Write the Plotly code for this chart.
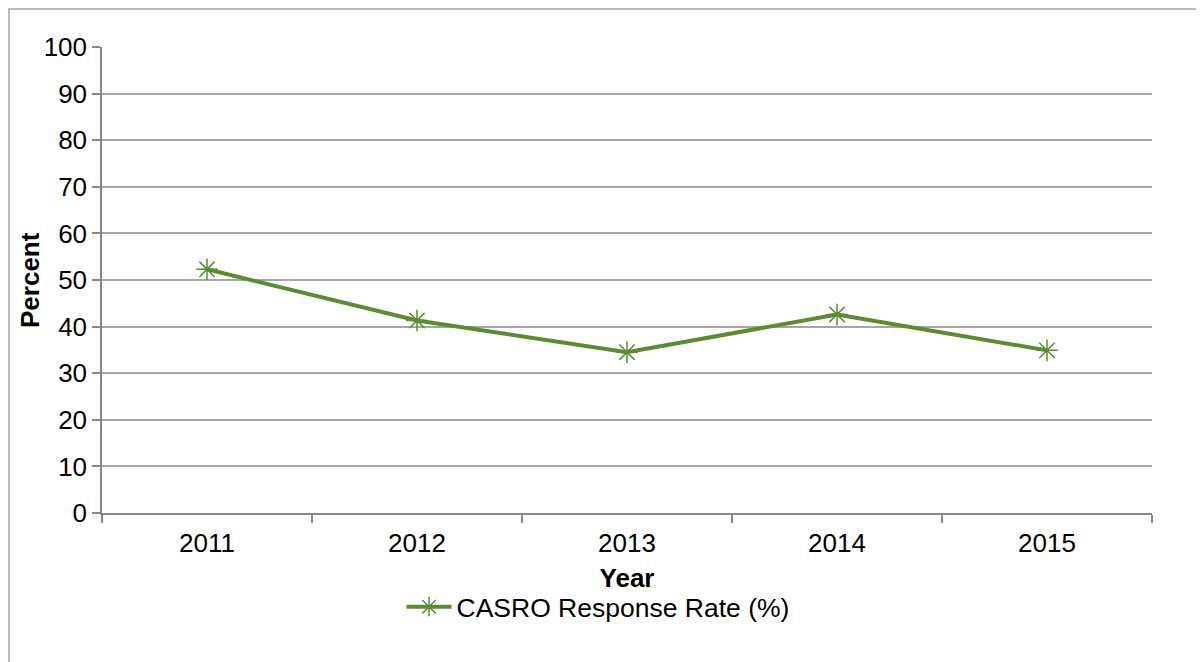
import plotly.graph_objects as go

years = ["2011", "2012", "2013", "2014", "2015"]
response_rate = [52.3, 41.3, 34.5, 42.6, 34.9]
series_name = "CASRO Response Rate (%)"
y_ticks = [0, 10, 20, 30, 40, 50, 60, 70, 80, 90, 100]

GREEN = "#5B8C33"
GRID = "#A6A6A6"
AXIS = "#868686"
FONT = "Liberation Sans, Arial, sans-serif"
FS = 26

# page body has an 8px margin; figure coordinates = page coordinates - 8
OFF = 8
W, H = 1196, 654
L, T = 102 - OFF, 47 - OFF
R = W - (1152 - OFF)
B = H - (513 - OFF)
pw, ph = W - L - R, H - T - B

def py(page_y):
    return (H - B - (page_y - OFF)) / ph

def px(page_x):
    return (page_x - OFF - L) / pw

fig = go.Figure()
fig.add_trace(go.Scatter(
    x=years, y=response_rate, name=series_name, mode="lines+markers",
    line=dict(color=GREEN, width=4),
    marker=dict(symbol="asterisk-open", size=18, color=GREEN, line=dict(color=GREEN, width=1.5)),
))

fig.update_layout(
    width=W, height=H, autosize=False,
    margin=dict(l=L, r=R, t=T, b=B, pad=0),
    paper_bgcolor="white", plot_bgcolor="white",
    font=dict(family=FONT, size=FS, color="black"),
    showlegend=True,
    legend=dict(orientation="h", x=px(598), xanchor="center",
                y=py(607), yanchor="middle",
                font=dict(size=26.5), itemwidth=45, bgcolor="rgba(0,0,0,0)"),
    shapes=[dict(type="rect", xref="paper", yref="paper",
                 x0=px(9), x1=px(1215),
                 y0=py(675), y1=py(9),
                 line=dict(color=GRID, width=1.5), fillcolor="rgba(0,0,0,0)", layer="below")],
    annotations=[dict(text="<b>Percent</b>", xref="paper", yref="paper",
                      x=px(30), y=py(280), xanchor="center", yanchor="middle",
                      textangle=-90, showarrow=False, font=dict(size=FS))],
)

fig.update_xaxes(
    type="category", range=[-0.5, 4.5], tickson="boundaries",
    ticks="outside", ticklen=8, tickwidth=1.5, tickcolor=AXIS,
    showline=True, linecolor=AXIS, linewidth=1.5,
    showgrid=False, zeroline=False,
    tickfont=dict(size=FS), ticklabelstandoff=6,
    title=dict(text="<b>Year</b>", font=dict(size=FS), standoff=12),
)
fig.update_yaxes(
    range=[0, 100], tickvals=y_ticks, ticktext=[str(v) for v in y_ticks],
    ticks="outside", ticklen=8, tickwidth=1.5, tickcolor=AXIS,
    showline=True, linecolor=AXIS, linewidth=1.5,
    showgrid=True, gridcolor=GRID, gridwidth=1.5, zeroline=False,
    tickfont=dict(size=FS),
)

fig.write_html("out.html")
